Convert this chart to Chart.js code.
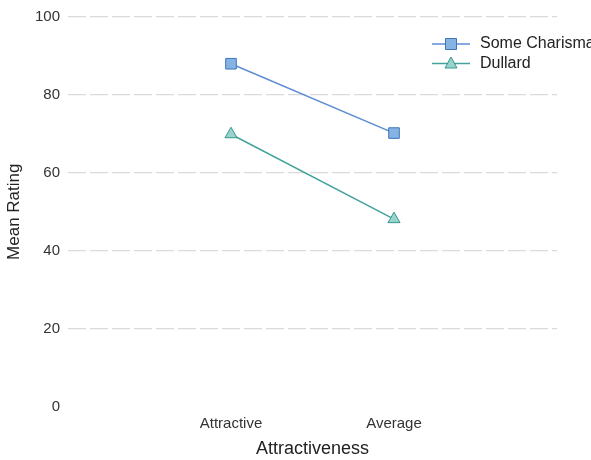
<!DOCTYPE html>
<html>
<head>
<meta charset="utf-8">
<script src="https://cdn.jsdelivr.net/npm/chart.js@4/dist/chart.umd.min.js"></script>
<style>
  html, body { margin: 0; padding: 0; background: #fff; }
  #wrap { width: 591px; height: 460px; }
</style>
</head>
<body>
<div id="wrap"><canvas id="myChart" width="591" height="460"></canvas></div>
<script>
// data
const categories = ["Attractive", "Average"];
const someCharisma = [88, 70.2];
const dullard = [69.9, 48.1];
const yTicks = [0, 20, 40, 60, 80, 100];

// pad the category axis with empty slots so the two groups sit at 1 and 2 of 0..3
const labels = ["", ...categories, ""];
const pad = (arr) => [null, ...arr, null];

const FONT = "'Liberation Sans', Arial, sans-serif";

// legend drawn as line + marker like the original
const lineLegend = {
    id: "lineLegend",
    afterDraw(chart) {
        const ctx = chart.ctx;
        const x0 = 432, x1 = 470, tx = 480;
        let y = 44;
        chart.data.datasets.forEach((ds) => {
            ctx.save();
            ctx.strokeStyle = ds.borderColor;
            ctx.lineWidth = 1.5;
            ctx.beginPath();
            ctx.moveTo(x0, y);
            ctx.lineTo(x1, y);
            ctx.stroke();
            const cx = (x0 + x1) / 2;
            ctx.fillStyle = ds.pointBackgroundColor;
            ctx.strokeStyle = ds.pointBorderColor;
            ctx.lineWidth = 1;
            ctx.beginPath();
            if (ds.pointStyle === "rect") {
                ctx.rect(cx - 5.5, y - 5.5, 11, 11);
            } else {
                ctx.moveTo(cx, y - 6.5);
                ctx.lineTo(cx + 6, y + 4.5);
                ctx.lineTo(cx - 6, y + 4.5);
                ctx.closePath();
            }
            ctx.fill();
            ctx.stroke();
            ctx.fillStyle = "#222";
            ctx.font = "16px " + FONT;
            ctx.textBaseline = "middle";
            ctx.textAlign = "left";
            ctx.fillText(ds.label, tx, y);
            ctx.restore();
            y += 19.5;
        });
    }
};

const ctx = document.getElementById("myChart").getContext("2d");
const chart = new Chart(ctx, {
    type: "line",
    data: {
        labels: labels,
        datasets: [
            {
                label: "Some Charisma",
                data: pad(someCharisma),
                borderColor: "#5b8ed3",
                borderWidth: 1.5,
                pointStyle: "rect",
                pointRadius: 7.5,
                pointBackgroundColor: "#86b3e3",
                pointBorderColor: "#3f74ba",
                pointBorderWidth: 1,
                fill: false
            },
            {
                label: "Dullard",
                data: pad(dullard),
                borderColor: "#44a29c",
                borderWidth: 1.5,
                pointStyle: "triangle",
                pointRadius: 7,
                pointBackgroundColor: "#98d3cc",
                pointBorderColor: "#3a958d",
                pointBorderWidth: 1,
                fill: false
            }
        ]
    },
    options: {
        responsive: false,
        animation: false,
        layout: { padding: { top: 15, right: 34, left: 0, bottom: 0 } },
        scales: {
            x: {
                offset: false,
                grid: { display: false, drawTicks: false },
                border: { display: false },
                ticks: {
                    color: "#333",
                    font: { family: FONT, size: 15 },
                    padding: 8,
                    maxRotation: 0,
                    autoSkip: false
                },
                title: {
                    display: true,
                    text: "Attractiveness",
                    color: "#222",
                    font: { family: FONT, size: 18 },
                    padding: { top: 0, bottom: 0 }
                },
                afterFit(scale) { scale.height = 53.5; }
            },
            y: {
                min: yTicks[0],
                max: yTicks[yTicks.length - 1],
                afterBuildTicks(scale) {
                    scale.ticks = yTicks.map((v) => ({ value: v }));
                },
                grid: {
                    drawTicks: false,
                    color: (c) => (c.tick && c.tick.value === 0 ? "rgba(0,0,0,0)" : "#dadada"),
                    lineWidth: 1.2
                },
                border: { display: false, dash: [18, 4] },
                ticks: {
                    color: "#333",
                    font: { family: FONT, size: 15 },
                    padding: 8
                },
                title: {
                    display: true,
                    text: "Mean Rating",
                    color: "#222",
                    font: { family: FONT, size: 17 },
                    padding: { top: 4, bottom: 0 }
                },
                afterFit(scale) { scale.width = 68; }
            }
        },
        plugins: {
            legend: { display: false },
            tooltip: { enabled: false }
        }
    },
    plugins: [lineLegend]
});
</script>
</body>
</html>
